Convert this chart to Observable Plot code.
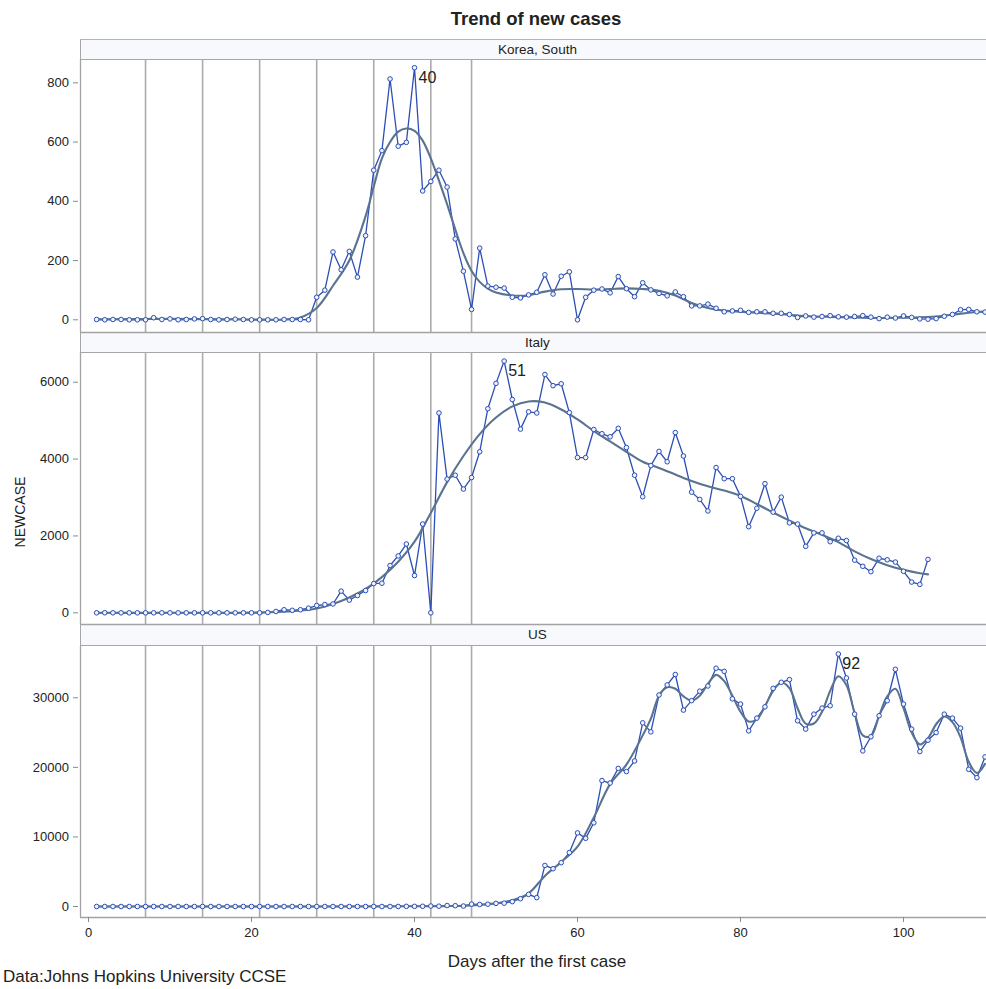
<!DOCTYPE html>
<html><head><meta charset="utf-8">
<script src="https://cdn.jsdelivr.net/npm/d3@7"></script>
<script src="https://cdn.jsdelivr.net/npm/@observablehq/plot@0.6"></script>
<style>
body{margin:0;background:#fff;font-family:"Liberation Sans",Arial,sans-serif;}
#wrap{position:relative;width:986px;height:989px;overflow:hidden;background:#fff}
.abs{position:absolute;white-space:nowrap;color:#222}
.strip{position:absolute;left:80px;width:906px;background:#f8f9fd;border-top:1px solid #b4b4b4;border-bottom:1.5px solid #a6a6a6;border-left:1px solid #a6a6a6;box-sizing:border-box;font-size:13.5px;color:#222;text-align:center;padding-left:8px}
.panel{position:absolute;left:0}
</style></head>
<body><div id="wrap"></div>
<script>
// ---------------- data ----------------
const refDays = [7, 14, 21, 28, 35, 42, 47];
const xTicks = [0, 20, 40, 60, 80, 100];

const koreaCases = [1,0,1,1,0,0,0,7,1,3, 0,1,3,4,1,0,1,2,1,0, 0,0,0,1,1,1,0,76,100,229,
  169,231,144,284,505,571,813,586,599,851, 435,467,505,448,273,164,35,242,114,110,
  107,76,74,84,93,152,87,147,162,0, 76,100,104,91,146,105,78,125,101,89,
  81,94,78,47,47,53,39,27,30,32, 25,27,27,22,22,18,8,13,9,11,
  14,10,9,11,14,9,4,9,6,13, 8,3,2,4,12,18,34,35,27,26];
const koreaFitDays = [1,10,20,24,26,28,30,32,34,35,36,37,38,39,40,41,42,43,44,45,46,47,48,49,50,
  52,54,56,58,60,62,64,66,68,70,72,74,76,78,80,82,85,88,91,94,97,100,102,104,106,108,110];
const koreaFit = [2,3,1,1,8,40,115,200,350,450,545,600,635,646,638,605,545,470,390,305,225,165,128,105,92,
  82,83,95,103,104,102,104,106,104,98,82,57,40,31,27,24,19,13,10,8,6,7,8,11,17,24,28];
const koreaTicks = [0, 200, 400, 600, 800];

const italyCases = [0,2,0,0,0,0,0,0,1,0, 0,0,0,0,0,0,0,0,0,0, 0,10,35,80,65,80,120,190,215,230,
  565,330,450,580,760,770,1230,1480,1790,970, 2310,0,5200,3480,3580,3220,3520,4190,5310,5970,
  6550,5550,4780,5230,5200,6200,5910,5960,5210,4040, 4040,4770,4660,4580,4800,4300,3580,3020,3830,4200,
  3930,4690,4080,3140,2950,2650,3780,3490,3490,3030, 2240,2720,3360,2620,3010,2340,2310,1730,2080,2080,
  1850,1940,1880,1370,1210,1070,1420,1380,1320,1080, 800,740,1390];
const italyFitDays = [1,10,20,24,26,28,30,32,34,36,38,40,42,44,46,48,50,52,54,56,58,60,62,64,66,
  68,70,72,74,76,78,80,82,84,86,88,90,92,94,96,98,100,102,103];
const italyFit = [0,0,5,30,60,113,230,400,620,930,1330,1850,2600,3400,4080,4650,5080,5370,5500,5470,5290,5030,4730,4460,4190,
  3930,3770,3600,3430,3290,3180,3040,2830,2610,2400,2200,2030,1840,1600,1400,1240,1120,1030,1000];
const italyTicks = [0, 2000, 4000, 6000];

const usCases = [1,0,1,0,3,0,0,0,1,1, 1,0,0,0,0,0,0,0,0,0, 1,0,0,0,0,0,0,0,0,0,
  0,0,0,0,1,0,0,6,23,20, 31,68,45,140,116,65,340,300,330,450,
  480,700,1120,1740,1280,5900,5430,6300,7750,10580, 9800,12030,18100,17750,19850,19400,20920,26400,25100,30400,
  31850,33350,28230,29590,30950,31700,34250,33800,29850,29100, 25250,27080,28700,31360,32230,32620,26700,25500,27650,28520,
  28860,36300,32850,27650,22370,24400,27420,29580,34100,29100, 25500,22270,23900,25000,27650,27080,25640,19720,18520,21500];
const usFitDays = [1,20,40,44,46,48,50,52,54,56,58,60,62,64,66,68,
  69,70,71,72,73,74,75,76,77,78,79,80,81,82,83,84,85,86,87,88,89,90,91,92,93,94,95,96,97,98,99,100,101,102,103,104,105,106,107,108,109,110];
const usFit = [0,0,30,60,100,240,450,900,1900,4400,6400,8600,12800,17600,20400,24600,
  27000,30300,31500,31300,30200,29600,30300,32000,33300,32400,30300,28000,26600,26900,28800,31000,32200,31400,28500,26300,26300,28000,31000,33100,31800,27800,24600,24500,27400,30200,31300,28500,25000,23300,24200,26200,27300,26500,24300,20800,19200,20500];
const usTicks = [0, 10000, 20000, 30000];

// ---------------- style ----------------
const blue = "#2c4fb6";
const fitColor = "#5a7391";
const gridGray = "#ababab";
const frameGray = "#a3a3a3";
const xDomain = [-0.98, 110.18];

const wrap = document.getElementById("wrap");
function addDiv(cls, style, text) {
  const d = document.createElement("div");
  d.className = cls;
  Object.assign(d.style, style);
  d.textContent = text;
  wrap.appendChild(d);
  return d;
}

function panel({cases, fitDays, fit, yDomain, yTicks, top, height, bottomAxis}) {
  const data = cases.map((v, i) => ({day: i + 1, value: v}));
  const fitData = fitDays.map((d, i) => ({day: d, value: fit[i]}));
  const peak = data.reduce((a, b) => (b.value > a.value ? b : a));
  const marginBottom = bottomAxis ? 30 : 0;
  const marks = [
    Plot.ruleX(refDays, {stroke: gridGray, strokeWidth: 1.6}),
    Plot.ruleX([xDomain[0]], {stroke: frameGray, strokeWidth: 1.3}),
    Plot.ruleY([yDomain[0]], {stroke: frameGray, strokeWidth: 1.5}),
    Plot.line(data, {x: "day", y: "value", stroke: blue, strokeWidth: 1.3}),
    Plot.line(fitData, {x: "day", y: "value", stroke: fitColor, strokeWidth: 2.1, curve: "catmull-rom"}),
    Plot.dot(data, {x: "day", y: "value", r: 2.3, stroke: blue, fill: "#eef2fb", strokeWidth: 1}),
    Plot.text([peak], {x: "day", y: "value", text: d => String(d.day), dx: 4, dy: 10, textAnchor: "start", fontSize: 16, fill: "#222"}),
    Plot.axisY({ticks: yTicks, tickSize: 5, tickPadding: 4.5, dx: -2, label: null, stroke: "#8a8a8a", fill: "#222", fontSize: 13, tickFormat: d => String(d)})
  ];
  if (bottomAxis) {
    marks.push(Plot.axisX({ticks: xTicks, tickSize: 5, tickPadding: 5, label: null, stroke: "#8a8a8a", fill: "#222", fontSize: 13, tickFormat: d => String(d)}));
  }
  const svg = Plot.plot({
    width: 986,
    height: height + marginBottom,
    marginLeft: 80, marginRight: 0, marginTop: 0, marginBottom,
    x: {domain: xDomain, axis: bottomAxis ? undefined : null},
    y: {domain: yDomain},
    style: {fontFamily: "'Liberation Sans', Arial, sans-serif", fontSize: "13px", background: "transparent", overflow: "visible", color: "#222"},
    marks
  });
  const holder = document.createElement("div");
  holder.className = "panel";
  holder.style.top = top + "px";
  holder.appendChild(svg);
  wrap.appendChild(holder);
}

// title
addDiv("abs", {left: "0px", width: "1072px", top: "8px", textAlign: "center", fontWeight: "bold", fontSize: "18.5px", lineHeight: "22px"}, "Trend of new cases");

// strips
addDiv("strip", {top: "39px", height: "21px", lineHeight: "19px"}, "Korea, South");
addDiv("strip", {top: "332px", height: "21px", lineHeight: "19px"}, "Italy");
addDiv("strip", {top: "624px", height: "22px", lineHeight: "20px"}, "US");

panel({cases: koreaCases, fitDays: koreaFitDays, fit: koreaFit, yDomain: [-42.9, 878.7], yTicks: koreaTicks, top: 59, height: 273});
panel({cases: italyCases, fitDays: italyFitDays, fit: italyFit, yDomain: [-304, 6773], yTicks: italyTicks, top: 352, height: 272});
panel({cases: usCases, fitDays: usFitDays, fit: usFit, yDomain: [-1581, 37374], yTicks: usTicks, top: 646, height: 271, bottomAxis: true});

// y label
addDiv("abs", {left: "20px", top: "512px", fontSize: "14px", lineHeight: "16px", transform: "translate(-50%,-50%) rotate(-90deg)"}, "NEWCASE");
// x label
addDiv("abs", {left: "0px", width: "1074px", top: "952px", textAlign: "center", fontSize: "17px", lineHeight: "20px"}, "Days after the first case");
// caption
addDiv("abs", {left: "3px", top: "967px", fontSize: "17px", lineHeight: "20px"}, "Data:Johns Hopkins University CCSE");
</script></body></html>
